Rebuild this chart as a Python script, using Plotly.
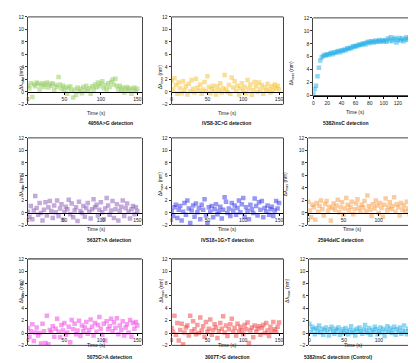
import plotly.graph_objects as go

# ---------------- data ----------------
time_s = list(range(0, 151, 2))

titles = ["4956A>G detection", "IVS8-3C>G detection", "5382insC detection",
          "5632T>A detection", "IVS18+1G>T detection", "2594delC detection",
          "5075G>A detection", "3007T>G detection", "5382insC detection (Control)"]

y_4956 = [1.0, 0.6, 1.4, -0.8, 1.2, 0.9, 1.5, 1.3, 0.4, 1.1,
          1.4, 0.8, 1.2, 1.5, 0.7, 1.3, 1.0, 1.4, 0.3, 1.1,
          0.8, 2.4, 1.2, 0.5, 1.0, 0.3, 0.8, -0.3, 0.6, 0.9,
          0.2, -0.9, 0.4, -0.5, 0.7, 0.1, 0.5, -0.2, 0.8, 0.3,
          1.0, 0.2, 0.6, -0.3, 0.9, 0.4, 1.2, 0.7, 1.5, 0.9,
          1.3, 1.7, 0.6, 1.1, 0.4, 1.4, 0.8, 1.6, 2.0, 1.2,
          2.1, 0.9, 0.4, 1.0, 0.3, 0.7, -0.1, 0.5, 0.8, 0.2,
          0.6, -0.3, 0.4, 0.7, 0.1, 0.5]
y_ivs8 = [1.8, 0.4, 2.2, 1.1, -0.3, 1.5, 0.6, -0.2, 1.7, 0.3,
          0.9, -0.4, 1.3, 0.1, 1.9, 0.5, -0.1, 2.1, 0.7, 0.2,
          1.2, -0.3, 0.4, 1.6, 0.1, 2.5, 0.8, -0.2, 0.5, 1.0,
          0.2, -0.4, 0.9, 0.3, 1.4, -0.1, 0.6, 2.7, 0.4, 0.0,
          1.1, -0.3, 2.3, 0.7, 1.7, 0.2, 1.0, -0.4, 0.6, 1.4,
          0.1, 0.8, -0.2, 1.9, 0.5, 1.2, -0.5, 0.3, 1.6, 0.9,
          0.0, 1.5, 0.4, 1.1, -0.3, 0.7, 0.2, 1.3, 0.5, -0.1,
          0.9, 0.3, 1.2, 0.6, 1.0, 0.4]
y_5382 = [0.3, 1.0, 1.5, 3.0, 4.3, 5.4, 5.9, 6.1, 6.3, 6.2,
          6.4, 6.3, 6.5, 6.6, 6.4, 6.7, 6.6, 6.8, 6.9, 6.7,
          7.0, 6.9, 7.1, 7.0, 7.3, 7.2, 7.4, 7.3, 7.6, 7.5,
          7.7, 7.6, 7.8, 7.9, 7.8, 8.0, 8.1, 7.9, 8.2, 8.3,
          8.1, 8.4, 8.3, 8.2, 8.5, 8.3, 8.4, 8.6, 8.3, 8.5,
          8.4, 8.6, 8.3, 8.8, 8.5, 9.0, 8.4, 8.7, 8.9, 8.2,
          8.6, 8.9, 8.5, 8.8, 8.4, 8.7, 9.0, 8.6, 8.9, 8.5,
          8.8, 9.1, 8.7, 8.9, 8.6, 8.8]
y_5632 = [0.2, -0.6, 1.1, -1.0, 0.4, 2.7, 0.8, -0.3, 1.6, 0.0,
          -1.2, 0.5, 1.7, -0.4, 0.9, 1.9, 0.3, -0.8, 1.2, 0.1,
          2.0, -0.5, 0.7, 1.4, -1.1, 0.2, 1.0, 0.6, 2.1, -0.2,
          1.5, -0.7, 0.4, 0.9, -1.3, 1.8, 0.3, 0.0, 1.1, -0.6,
          0.8, 1.6, 0.2, -0.9, 0.6, 2.2, 0.9, 1.3, -0.4, 0.5,
          1.7, 0.1, -1.0, 0.7, 2.4, 1.2, -0.3, 0.4, 1.9, -0.8,
          0.6, 1.4, -1.2, 0.3, 1.0, 2.0, -0.5, 0.8, 1.5, 0.2,
          -0.9, 0.6, 1.1, -0.2, 0.9, 0.3]
y_ivs18 = [0.3, -0.5, 0.9, 1.3, -0.8, 0.5, 1.1, -1.2, 0.2, 1.6,
           -0.3, 2.0, 0.7, -1.6, 0.4, 1.2, -0.6, 1.5, 0.1, 0.8,
           -1.0, 1.3, 0.5, 2.2, -0.4, -1.7, 0.9, 0.2, 1.1, -0.7,
           0.6, 1.4, -0.2, 0.3, 1.0, -0.9, 0.5, 2.5, 1.8, 0.0,
           0.7, -0.5, 1.6, 0.4, 1.2, -0.3, 0.8, 2.0, 0.1, 1.4,
           2.4, -0.6, 0.9, 0.3, -1.0, 1.3, 0.6, 0.0, 2.3, 1.1,
           -0.4, 1.7, 0.5, 1.9, -0.7, 0.8, 0.2, 1.2, -0.3, 0.6,
           1.0, -0.5, 0.4, 1.9, 0.7, 1.6]
y_2594 = [1.8, 0.4, -0.7, 1.3, 0.9, -1.1, 1.6, 0.2, 1.1, 2.0,
          0.6, -0.4, 1.4, 1.9, 0.3, 1.0, -1.2, 0.8, 1.5, 0.5,
          1.2, 2.1, 0.1, 0.9, 1.7, -0.3, 0.7, 2.4, 1.3, 0.4,
          1.0, 1.8, -0.2, 0.6, 1.5, 2.2, 0.8, 0.2, 1.3, 0.9,
          1.9, 0.3, 2.8, 1.1, 0.5, -0.5, 1.4, 0.7, 2.0, 1.2,
          0.0, 1.6, 0.8, -0.6, 1.3, 2.3, 0.4, 1.0, 1.7, 0.6,
          1.1, 2.5, 0.2, 1.4, 0.9, -0.4, 1.6, 0.5, 1.2, 0.3,
          1.8, 0.7, -0.2, 1.0, 0.4, 0.8]
y_5075 = [0.8, -0.6, 0.3, 1.4, -1.3, 0.1, 0.9, -0.4, 0.0, -1.7,
          1.5, 0.3, -1.6, 2.8, -1.8, 0.5, 0.2, 1.1, -0.6, 0.7,
          2.3, 0.2, -0.7, 1.3, 0.4, 1.6, -0.3, 0.1, 1.0, -1.5,
          2.1, 0.6, 1.5, -0.2, 0.4, 2.0, -0.5, 1.2, 0.3, 0.9,
          1.8, -0.1, 0.5, 2.2, 1.0, -0.4, 1.6, 0.2, 1.3, 2.6,
          0.7, -0.3, 1.5, -1.2, 1.9, 0.6, 1.1, 2.3, 0.3, 1.7,
          0.8, 2.4, -0.2, 1.2, 0.5, 1.9, -0.4, 0.9, 1.4, 0.1,
          2.1, -0.6, 1.6, 0.7, 1.8, 1.2]
y_3007 = [0.8, 0.2, 2.8, -0.3, 1.6, -1.2, 0.5, 1.5, -1.8, 0.1,
          0.9, 1.2, -0.4, 2.8, 0.3, 1.9, 0.6, -0.2, 1.3, 0.0,
          2.5, 0.4, 1.1, -0.6, 1.8, 0.2, 0.7, 2.2, -0.3, 0.5,
          1.4, 0.9, -0.8, 0.3, 1.6, 0.7, 2.7, 0.1, 1.2, -0.5,
          0.6, 1.4, 2.3, 0.2, 0.8, -0.4, 1.5, 0.3, 1.0, 0.5,
          -0.2, 1.3, 0.6, 1.7, -1.6, 0.4, 0.9, -0.7, 1.2, 0.2,
          0.7, 1.1, -0.3, 0.8, 1.3, 0.0, 1.6, 0.4, -0.5, 1.0,
          0.3, 1.8, 0.6, 0.2, 1.0, 1.7]
y_ctrl = [1.5, 0.2, 1.0, 0.6, -0.2, 0.8, 0.4, 1.2, 0.1, 0.7,
          -0.3, 0.5, 0.9, 0.2, -0.4, 0.6, 1.0, 0.3, -0.1, 0.7,
          0.4, 0.9, -0.3, 0.2, 0.6, 0.0, 0.8, 0.3, -0.2, 0.5,
          1.1, 0.1, 0.4, -0.4, 0.7, 0.2, 0.9, 0.3, -0.1, 0.6,
          1.3, 0.4, 0.0, 0.8, -0.3, 0.5, 0.2, 1.0, 0.6, -0.2,
          0.3, 0.9, 0.1, 0.7, -0.5, 0.4, 1.1, 0.2, 0.8, 0.0,
          0.5, 1.0, -0.3, 0.6, 0.2, 0.9, -0.1, 0.4, 1.2, 0.3,
          -0.2, 0.7, 0.1, 0.5, 0.0, 0.4]

series = [y_4956, y_ivs8, y_5382, y_5632, y_ivs18, y_2594, y_5075, y_3007, y_ctrl]

# ---------------- styling / layout ----------------
colors = ["#8fcc5a", "#f6c230", "#20aee6", "#8a55b4", "#3030ea",
          "#f79a40", "#ee3ae4", "#ef3c3c", "#22b0e6"]

W, H = 416, 363
def PX(x): return x / W
def PY(y): return 1 - y / H

# (left, right, top, bottom) in pixels
boxes = [(19, 133, 6, 95), (163, 275, 6, 95), (305, 411, 7, 86),
         (19, 133, 129, 218), (163, 275, 129, 218), (300, 410, 129, 218),
         (19, 133, 252, 340), (163, 275, 252, 340), (301, 410, 252, 340)]
time_label_y = [99, 99, 98, 222, 222, 222, 345, 345, 345]
title_y = [109, 109, 109, 233, 233, 233, 357, 357, 357]
title_x = [77, 218, 363, 76, 219, 358, 76, 219, 366]
ylab_x = [7, 152, 289, 7, 152, 283, 7, 152, 284]

FONT = "Liberation Sans, Arial, sans-serif"
fig = go.Figure()
layout = dict(width=W, height=H, margin=dict(l=0, r=0, t=0, b=0),
              paper_bgcolor="white", plot_bgcolor="white", showlegend=False,
              font=dict(family=FONT, size=5, color="#222"))
shapes, annotations = [], []

for i, (ys, col, (l, r, t, b)) in enumerate(zip(series, colors, boxes)):
    n = i + 1
    xs = "x" if n == 1 else f"x{n}"
    yss = "y" if n == 1 else f"y{n}"
    growth = (i == 2)
    fig.add_trace(go.Scatter(x=time_s[:len(ys)], y=ys, mode="markers",
                             xaxis=xs, yaxis=yss,
                             marker=dict(symbol="square", size=4.5, color=col,
                                         opacity=0.5, line=dict(width=0)),
                             hoverinfo="skip"))
    ymin = 0 if growth else -2
    zero_px = b - (0 - ymin) / (12 - ymin) * (b - t)
    layout["xaxis" if n == 1 else f"xaxis{n}"] = dict(
        domain=[PX(l), PX(r)], range=[0, 150 if growth else 156],
        anchor="free", position=PY(zero_px),
        tickvals=list(range(0, 141, 20)) if growth else [0, 50, 100, 150],
        ticks="outside", ticklen=2, tickwidth=1, tickcolor="#000",
        showline=True, linecolor="#000", linewidth=1.3,
        showgrid=False, zeroline=False,
        tickfont=dict(size=5, family=FONT, color="#222"))
    layout["yaxis" if n == 1 else f"yaxis{n}"] = dict(
        domain=[PY(b), PY(t)], range=[ymin, 12], anchor=xs,
        tickvals=list(range(ymin, 13, 2)),
        ticks="outside", ticklen=2, tickwidth=1, tickcolor="#333",
        showline=True, linecolor="#444", linewidth=1, mirror=True,
        showgrid=False, zeroline=False,
        tickfont=dict(size=5, family=FONT, color="#222"))
    xd = f"{xs} domain"
    yd = f"{yss} domain"
    # frame top and bottom
    shapes.append(dict(type="line", xref=xd, yref=yd, x0=0, x1=1, y0=1, y1=1,
                       line=dict(color="#777" if i >= 6 else "#444",
                                 width=1.6 if i >= 6 else 1)))
    shapes.append(dict(type="line", xref=xd, yref=yd, x0=0, x1=1, y0=0, y1=0,
                       line=dict(color="#444", width=1)))
    cx = (l + r) / 2
    annotations.append(dict(text="Time (s)", x=PX(cx), y=PY(time_label_y[i]),
                            xref="paper", yref="paper", showarrow=False,
                            font=dict(size=5, family=FONT, color="#222")))
    annotations.append(dict(text=f"<b>{titles[i]}</b>", x=PX(title_x[i]),
                            y=PY(title_y[i]), xref="paper", yref="paper",
                            showarrow=False,
                            font=dict(size=5, family=FONT, color="#111")))
    annotations.append(dict(text="Δλ<sub>max</sub> (nm)", x=PX(ylab_x[i]),
                            y=PY((t + b) / 2 + 3), xref="paper", yref="paper",
                            showarrow=False, textangle=-90,
                            font=dict(size=5, family=FONT, color="#222")))

layout["shapes"] = shapes
layout["annotations"] = annotations
fig.update_layout(**layout)
fig.write_html("out.html")
